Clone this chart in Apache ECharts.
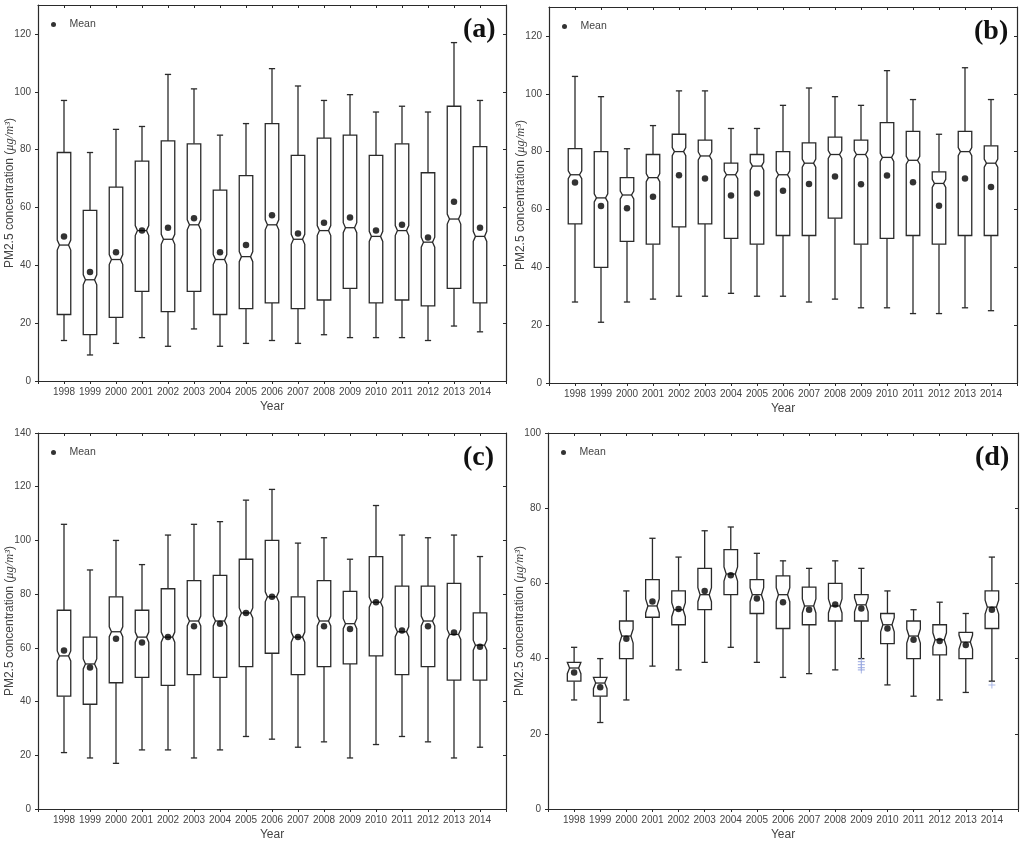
<!DOCTYPE html>
<html><head><meta charset="utf-8">
<script src="https://cdn.jsdelivr.net/npm/echarts@6/dist/echarts.min.js"></script>
<style>html,body{margin:0;padding:0;background:#fff}#c{width:1024px;height:845px}</style>
</head><body><div id="c"></div>
<script>
// ---- data ----
var years = [1998,1999,2000,2001,2002,2003,2004,2005,2006,2007,2008,2009,2010,2011,2012,2013,2014];
// box rows: [lower whisker, Q1, median, Q3, upper whisker]
var boxA = [[14,23,47,79,97],[9,16,35,59,79],[13,22,42,67,87],[15,31,52,76,88],[12,24,49,83,106],[18,31,54,82,101],[12,23,42,66,85],[13,25,43,71,89],[14,27,54,89,108],[13,25,49,78,102],[16,28,52,84,97],[15,32,53,85,99],[15,27,50,78,93],[15,28,52,82,95],[14,26,48,72,93],[19,32,56,95,117],[17,27,50,81,97]];
var meanA = [50,37.7,44.5,52,53,56.3,44.5,47,57.3,51,54.7,56.5,52,54,49.6,62,53];
var boxB = [[28,55,72,81,106],[21,40,64,80,99],[28,49,65,71,81],[29,48,71,79,89],[30,54,80,86,101],[30,55,78.5,84,101],[31,50,72,76,88],[30,48,75,79,88],[30,51,72,80,96],[28,51,76,83,102],[29,57,79,85,99],[26,48,79,84,96],[26,50,78,90,108],[24,51,77,87,98],[24,48,69,73,86],[26,51,80,87,109],[25,51,76,82,98]];
var meanB = [69.3,61.2,60.4,64.4,71.8,70.7,64.8,65.5,66.5,68.8,71.4,68.7,71.7,69.4,61.3,70.7,67.8];
var boxC = [[21,42,57,74,106],[19,39,54,64,89],[17,47,66,79,100],[22,49,64,74,91],[22,46,64,82,102],[19,50,70,85,106],[22,49,70,87,107],[27,53,73,93,115],[26,58,79,100,119],[23,50,64,79,99],[25,53,70,85,101],[19,54,69,81,93],[24,57,77,94,113],[27,50,66,83,102],[25,53,70,83,101],[19,48,65,84,102],[23,48,61,73,94]];
var meanC = [59,52.7,63.4,62,64,68,69,73,79,64,68,67,77,66.5,68,65.7,60.4];
var boxD = [[29,34,37.5,39,43],[23,30,33.5,35,40],[29,40,46,50,58],[38,51,54,61,72],[37,49,53,58,67],[39,53,57,64,74],[43,57,62.5,69,75],[39,52,57,61,68],[35,48,57,62,66],[36,49,54,59,64],[37,50,54,60,66],[40,50,54.3,57,64],[33,44,49,52,58],[30,40,46,50,53],[29,41,45,49,55],[31,40,44.4,47,52],[34,48,53.7,58,67]];
var meanD = [36.3,32.4,45.3,55.2,53.2,58,62.2,56,55,53,54.4,53.3,48,45,44.7,43.6,53];
var outlierD = [[2009,39.2],[2009,38.4],[2009,37.6],[2009,37],[2014,33]];
var panelLabels = ['(a)','(b)','(c)','(d)'];

// ---- styling / layout ----
var grids = [
  {left:38, top:5, width:468, height:376, ymax:130, notch:5},
  {left:549, top:7, width:468, height:376, ymax:130, notch:4},
  {left:38, top:433, width:468, height:376, ymax:140, notch:5},
  {left:548, top:433, width:470, height:376, ymax:100, notch:7}
];
var BOX_HALF = 0.26, CAP_HALF = 0.12, NOTCH_IND = 0.33;
var LINE = '#2a2a2a', TXT = '#444';

function makeRender(notchPx){
  return function(params, api){
    var x = api.value(0);
    var pLo = api.coord([x, api.value(1)]);
    var pQ1 = api.coord([x, api.value(2)]);
    var pMd = api.coord([x, api.value(3)]);
    var pQ3 = api.coord([x, api.value(4)]);
    var pHi = api.coord([x, api.value(5)]);
    var unit = api.size([1,0])[0];
    var hw = unit*BOX_HALF, cw = unit*CAP_HALF, cx = pMd[0];
    var ym = pMd[1];
    var nh = Math.min(notchPx, ym - pQ3[1], pQ1[1] - ym);
    var ind = hw*NOTCH_IND;
    var xl = cx - hw, xr = cx + hw;
    var pts = [[xl,pQ3[1]],[xr,pQ3[1]],[xr,ym-nh],[xr-ind,ym],[xr,ym+nh],[xr,pQ1[1]],[xl,pQ1[1]],[xl,ym+nh],[xl+ind,ym],[xl,ym-nh]];
    var st = {stroke:LINE, lineWidth:1.3};
    return {type:'group', children:[
      {type:'line', shape:{x1:cx,y1:pHi[1],x2:cx,y2:pQ3[1]}, style:st},
      {type:'line', shape:{x1:cx,y1:pQ1[1],x2:cx,y2:pLo[1]}, style:st},
      {type:'line', shape:{x1:cx-cw,y1:pHi[1],x2:cx+cw,y2:pHi[1]}, style:st},
      {type:'line', shape:{x1:cx-cw,y1:pLo[1],x2:cx+cw,y2:pLo[1]}, style:st},
      {type:'polygon', shape:{points:pts}, style:{fill:'#fff', stroke:LINE, lineWidth:1.3}},
      {type:'line', shape:{x1:xl+ind,y1:ym,x2:xr-ind,y2:ym}, style:st}
    ]};
  };
}

var boxes = [boxA, boxB, boxC, boxD];
var means = [meanA, meanB, meanC, meanD];

var option = {
  backgroundColor:'#fff',
  animation:false,
  grid:[], xAxis:[], yAxis:[], series:[], legend:[], graphic:[]
};

grids.forEach(function(g, i){
  option.grid.push({left:g.left, top:g.top, width:g.width, height:g.height, show:false,
    containLabel:false, outerBoundsMode:'none'});
  option.xAxis.push({
    type:'value', gridIndex:i, min:1997, max:2015, interval:1, position:'bottom',
    name:'Year', nameLocation:'middle', nameGap:20, nameMoveOverlap:false,
    nameTextStyle:{fontSize:12, color:TXT, fontFamily:'Liberation Sans'},
    axisLine:{show:true, onZero:false, lineStyle:{color:LINE, width:1.2}},
    axisTick:{show:true, length:3, lineStyle:{color:LINE}},
    axisLabel:{fontSize:10, color:TXT, margin:6, fontFamily:'Liberation Sans',
      formatter:function(v){ return years.indexOf(v) >= 0 ? String(v) : ''; }},
    splitLine:{show:false}
  });
  option.xAxis.push({
    type:'value', gridIndex:i, min:1997, max:2015, interval:1, position:'top',
    axisLine:{show:true, onZero:false, lineStyle:{color:LINE, width:1.2}},
    axisTick:{show:true, inside:true, length:3, lineStyle:{color:LINE}},
    axisLabel:{show:false}, splitLine:{show:false}
  });
  option.yAxis.push({
    type:'value', gridIndex:i, min:0, max:g.ymax, interval:20, position:'left',
    name:'PM2.5 concentration ({i|μg/m³})', nameLocation:'middle', nameGap:22, nameMoveOverlap:false,
    nameTextStyle:{fontSize:12, color:TXT, fontFamily:'Liberation Sans',
      rich:{i:{fontSize:12.5, color:TXT, fontStyle:'italic', fontFamily:'Liberation Serif'}}},
    axisLine:{show:true, lineStyle:{color:LINE, width:1.2}},
    axisTick:{show:true, length:3, lineStyle:{color:LINE}},
    axisLabel:{fontSize:10, color:TXT, margin:7, fontFamily:'Liberation Sans', showMaxLabel: g.ymax % 20 === 0,
      formatter:function(v){ return (v % 20 === 0) ? String(v) : ''; }},
    splitLine:{show:false}
  });
  option.yAxis.push({
    type:'value', gridIndex:i, min:0, max:g.ymax, interval:20, position:'right',
    axisLine:{show:true, lineStyle:{color:LINE, width:1.2}},
    axisTick:{show:true, inside:true, length:3, lineStyle:{color:LINE}},
    axisLabel:{show:false}, splitLine:{show:false}
  });
  var bd = boxes[i].map(function(r, k){ return [years[k]].concat(r); });
  option.series.push({
    type:'custom', name:'box'+i, xAxisIndex:2*i, yAxisIndex:2*i,
    renderItem:makeRender(g.notch), data:bd,
    encode:{x:0, y:[1,2,3,4,5]}, z:2, silent:true
  });
  option.series.push({
    type:'scatter', name:'Mean', xAxisIndex:2*i, yAxisIndex:2*i,
    symbol:'circle', symbolSize:6.5, itemStyle:{color:'#000'},
    data: means[i].map(function(m,k){ return [years[k], m]; }), z:5
  });
  if (i === 3) {
    option.series.push({
      type:'scatter', name:'outliers', xAxisIndex:2*i, yAxisIndex:2*i,
      symbol:'path://M-0.6,-4H0.6V4H-0.6Z M-4,-0.6H4V0.6H-4Z', symbolSize:7,
      itemStyle:{color:'#97a6e0', opacity:0.8}, data:outlierD, z:4
    });
  }
  option.legend.push({
    data:['Mean'], left:g.left+8, top:g.top + 9, orient:'horizontal',
    icon:'circle', itemWidth:22, itemHeight:5, itemGap:4,
    textStyle:{fontSize:10.5, color:TXT, fontFamily:'Liberation Sans'}, selectedMode:false
  });
  option.graphic.push({
    type:'text', left:g.left + g.width - 43, top:g.top + 11,
    style:{text:panelLabels[i], font:'bold 28px "Liberation Serif"', fill:'#111'}
  });
});

var chart = echarts.init(document.getElementById('c'));
chart.setOption(option);
</script>
</body></html>
